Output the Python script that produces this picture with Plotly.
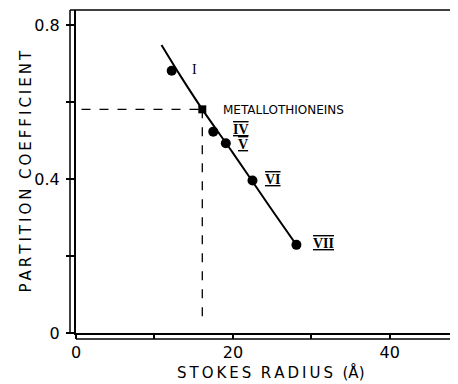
import plotly.graph_objects as go

# Data
labels = ["I", "IV", "V", "VI", "VII"]
stokes_radius = [12.2, 17.5, 19.1, 22.5, 28.1]
partition_coef = [0.681, 0.523, 0.493, 0.396, 0.229]

met_x = [16.1]
met_y = [0.581]

curve_x = [10.9, 13.5, 16.1, 20.0, 24.7, 28.1]
curve_y = [0.748, 0.662, 0.581, 0.468, 0.328, 0.229]

x_tickvals = [0, 10, 20, 30, 40]
x_ticktext = ["0", "", "20", "", "40"]
y_tickvals = [0, 0.2, 0.4, 0.6, 0.8]
y_ticktext = ["0", "", "0.4", "", "0.8"]

label_shift = [23, 28, 17, 21, 27]
label_yshift = [1, 2, -1, 1, 1]

FONT = "DejaVu Sans"
TS = "\u2009"


def spaced(s):
    return TS.join(list(s))


fig = go.Figure()

# fitted curve
fig.add_trace(go.Scatter(x=curve_x, y=curve_y, mode="lines", line=dict(color="black", width=2, shape="spline"),
                         hoverinfo="skip", showlegend=False))
# dashed reference lines from metallothionein point
fig.add_trace(go.Scatter(x=[0.7, met_x[0]], y=[met_y[0], met_y[0]], mode="lines",
                         line=dict(color="black", width=1.3, dash="dash"), showlegend=False))
fig.add_trace(go.Scatter(x=[met_x[0], met_x[0]], y=[met_y[0], 0.023], mode="lines",
                         line=dict(color="black", width=1.3, dash="dash"), showlegend=False))
# proteins
fig.add_trace(go.Scatter(x=stokes_radius, y=partition_coef, mode="markers",
                         marker=dict(color="black", size=10, symbol="circle"), showlegend=False))
fig.add_trace(go.Scatter(x=met_x, y=met_y, mode="markers",
                         marker=dict(color="black", size=8, symbol="square"), showlegend=False))

for lab, x, y, dx, dy in zip(labels, stokes_radius, partition_coef, label_shift, label_yshift):
    txt = lab if lab == "I" else f"<span style='text-decoration:underline overline'><b>{lab}</b></span>"
    fig.add_annotation(x=x, y=y, text=txt, showarrow=False, xshift=dx, yshift=dy,
                       font=dict(family="Liberation Serif", size=14, color="black"))

fig.add_annotation(x=met_x[0], y=met_y[0], text="METALLOTHIONEINS", showarrow=False,
                   xanchor="left", xshift=19, yshift=-1,
                   font=dict(family=FONT, size=12, color="black"))

# scan-like outer frame lines
fig.add_shape(type="line", xref="paper", yref="paper", x0=-6/382, x1=-6/382, y0=0, y1=1,
              line=dict(color="black", width=1.5))
fig.add_shape(type="line", xref="paper", yref="paper", x0=0, x1=1, y0=-6/323, y1=-6/323,
              line=dict(color="black", width=1.5))
fig.add_shape(type="line", xref="paper", yref="paper", x0=-6/382, x1=1, y0=1, y1=1,
              line=dict(color="black", width=1.5))

fig.add_annotation(xref="paper", yref="paper", x=0.51, y=-0.158, yanchor="bottom",
                   text=spaced("STOKES") + "  " + spaced("RADIUS") + "  (Å)", showarrow=False,
                   font=dict(family=FONT, size=15, color="black"))
fig.add_annotation(xref="paper", yref="paper", x=-0.131, y=0.50, xanchor="center", yanchor="middle",
                   textangle=-90, text=spaced("PARTITION") + "  " + spaced("COEFFICIENT"),
                   showarrow=False, font=dict(family=FONT, size=15, color="black"))

fig.update_xaxes(range=[0, 48.7], tickvals=x_tickvals, ticktext=x_ticktext, automargin=False,
                 showline=True, linecolor="black", linewidth=2, ticks="outside", ticklen=4,
                 tickwidth=1.5, tickcolor="black", showgrid=False, zeroline=False,
                 tickfont=dict(family=FONT, size=16, color="black"))
fig.update_yaxes(range=[0, 0.839], tickvals=y_tickvals, ticktext=y_ticktext, automargin=False,
                 showline=True, linecolor="black", linewidth=2, ticks="outside", ticklen=8,
                 tickwidth=1.5, tickcolor="black", showgrid=False, zeroline=False,
                 ticklabelstandoff=3,
                 tickfont=dict(family=FONT, size=16, color="black"))

# the page body adds an 8px offset; size the figure so the plot lands where the reference has it
fig.update_layout(width=450, height=376, margin=dict(l=68, r=0, t=2, b=51),
                  plot_bgcolor="white", paper_bgcolor="white")

fig.write_html("out.html")
